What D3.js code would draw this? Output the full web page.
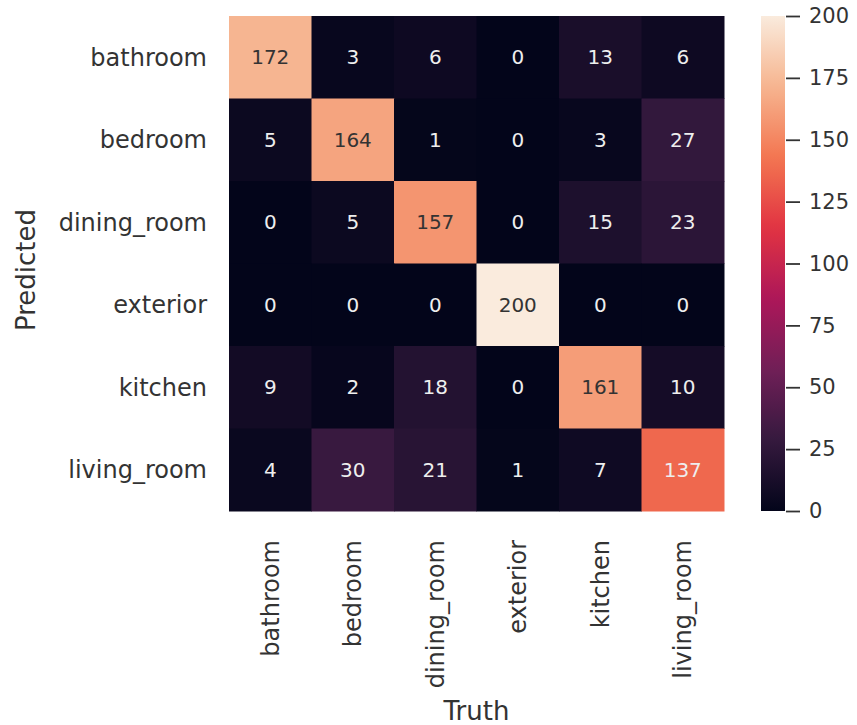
<!DOCTYPE html>
<html>
<head>
<meta charset="utf-8">
<style>
  body { margin: 0; background: #fff; }
  text { font-family: "DejaVu Sans", sans-serif; fill: #333333; }
</style>
</head>
<body>
<svg width="857" height="725"></svg>
<script src="https://d3js.org/d3.v7.min.js"></script>
<script>
// class names (rows = predicted, columns = truth)
var classes = ['bathroom', 'bedroom', 'dining_room', 'exterior', 'kitchen', 'living_room'];
var counts = [
    [172, 3, 6, 0, 13, 6],
    [5, 164, 1, 0, 3, 27],
    [0, 5, 157, 0, 15, 23],
    [0, 0, 0, 200, 0, 0],
    [9, 2, 18, 0, 161, 10],
    [4, 30, 21, 1, 7, 137]
];
var colorTicks = [0, 25, 50, 75, 100, 125, 150, 175, 200];
// approximate "rocket" colormap stops
var rocket = ['#03051a', '#35193e', '#701f57', '#ad1759', '#e13342', '#f37651', '#f6b48f', '#faebdd'];

var svg = d3.select('svg');
var mapLeft = 229, mapTop = 16, size = 495;

var x = d3.scaleBand().domain(classes).range([mapLeft, mapLeft + size]);
var y = d3.scaleBand().domain(classes).range([mapTop, mapTop + size]);
var interp = d3.piecewise(d3.interpolateRgb, rocket);
var color = d3.scaleSequential(interp).domain([0, 200]);

function luminance(c) {
    var rgb = d3.rgb(c);
    var f = function (v) {
        v = v / 255;
        return v <= 0.03928 ? v / 12.92 : Math.pow((v + 0.055) / 1.055, 2.4);
    };
    return 0.2126 * f(rgb.r) + 0.7152 * f(rgb.g) + 0.0722 * f(rgb.b);
}

var cells = [];
counts.forEach(function (row, i) {
    row.forEach(function (v, j) {
        cells.push({ pred: classes[i], truth: classes[j], value: v });
    });
});

var g = svg.append('g');
g.selectAll('rect')
    .data(cells)
    .enter().append('rect')
    .attr('x', function (d) { return x(d.truth); })
    .attr('y', function (d) { return y(d.pred); })
    .attr('width', x.bandwidth() + 0.5)
    .attr('height', y.bandwidth() + 0.5)
    .attr('fill', function (d) { return color(d.value); });

g.selectAll('text.annot')
    .data(cells)
    .enter().append('text')
    .attr('class', 'annot')
    .attr('x', function (d) { return x(d.truth) + x.bandwidth() / 2; })
    .attr('y', function (d) { return y(d.pred) + y.bandwidth() / 2; })
    .attr('dy', '0.36em')
    .attr('text-anchor', 'middle')
    .style('font-size', '20px')
    .style('fill', function (d) { return luminance(color(d.value)) > 0.408 ? '#333333' : '#eeeeee'; })
    .text(function (d) { return d.value; });

// y tick labels
svg.append('g').selectAll('text')
    .data(classes)
    .enter().append('text')
    .attr('x', 207)
    .attr('y', function (d) { return y(d) + y.bandwidth() / 2; })
    .attr('dy', '0.36em')
    .attr('text-anchor', 'end')
    .style('font-size', '24px')
    .text(function (d) { return d; });

// x tick labels (rotated)
svg.append('g').selectAll('text')
    .data(classes)
    .enter().append('text')
    .attr('transform', function (d) {
        return 'translate(' + (x(d) + x.bandwidth() / 2) + ',540) rotate(-90)';
    })
    .attr('dy', '0.36em')
    .attr('text-anchor', 'end')
    .style('font-size', '24px')
    .text(function (d) { return d; });

// axis titles
svg.append('text')
    .attr('x', mapLeft + size / 2)
    .attr('y', 720)
    .attr('text-anchor', 'middle')
    .style('font-size', '26px')
    .text('Truth');
svg.append('text')
    .attr('transform', 'translate(35,270) rotate(-90)')
    .attr('text-anchor', 'middle')
    .style('font-size', '26px')
    .text('Predicted');

// colorbar
var cbX = 761, cbW = 24;
var grad = svg.append('defs').append('linearGradient')
    .attr('id', 'cb').attr('x1', 0).attr('y1', 1).attr('x2', 0).attr('y2', 0);
d3.range(0, 1.0001, 0.02).forEach(function (t) {
    grad.append('stop').attr('offset', t).attr('stop-color', interp(t));
});
svg.append('rect')
    .attr('x', cbX).attr('y', mapTop)
    .attr('width', cbW).attr('height', size)
    .attr('fill', 'url(#cb)');

var cy = d3.scaleLinear().domain([0, 200]).range([mapTop + size, mapTop]);
var cbAxis = svg.append('g')
    .attr('transform', 'translate(' + (cbX + cbW + 1) + ',0)')
    .call(d3.axisRight(cy).tickValues(colorTicks).tickSize(14).tickPadding(9));
cbAxis.select('.domain').remove();
cbAxis.selectAll('line').attr('stroke', '#333333').attr('stroke-width', 1.8);
cbAxis.selectAll('text')
    .style('font-family', '"DejaVu Sans", sans-serif')
    .style('font-size', '21px')
    .attr('fill', '#333333');
</script>
</body>
</html>
